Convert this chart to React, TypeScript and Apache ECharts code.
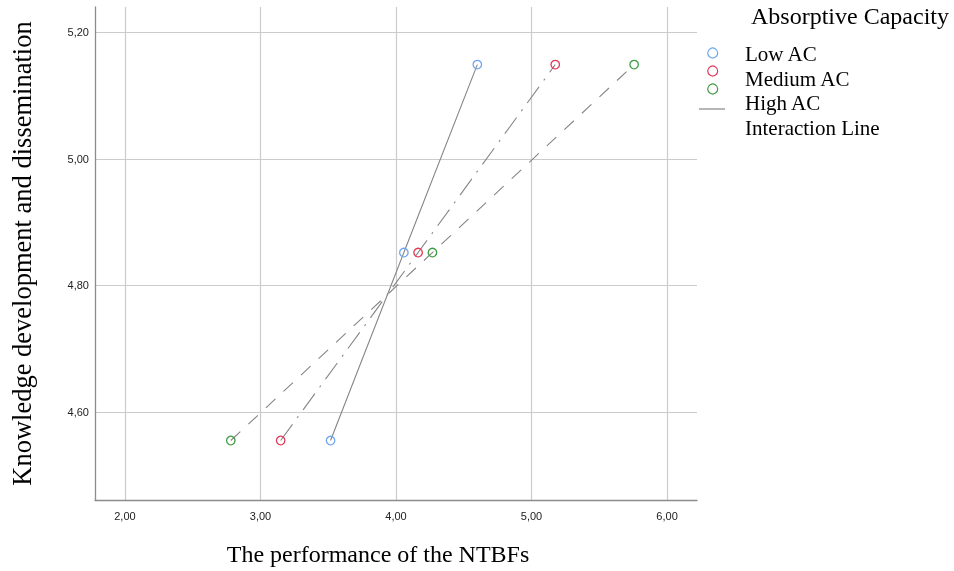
import React, { useEffect, useRef } from "react";
import * as echarts from "echarts";

const seriesNames = ["Low AC", "Medium AC", "High AC"];
const lowAC: [number, number][] = [[3.517, 4.555], [4.058, 4.852], [4.600, 5.149]];
const mediumAC: [number, number][] = [[3.149, 4.555], [4.163, 4.852], [5.175, 5.149]];
const highAC: [number, number][] = [[2.781, 4.555], [4.269, 4.852], [5.757, 5.149]];
const xTicks = [2, 3, 4, 5, 6];
const yTicks = [4.6, 4.8, 5.0, 5.2];
const legendTitle = "Absorptive Capacity";
const legendExtra = "Interaction Line";
const xTitle = "The performance of the NTBFs";
const yTitle = "Knowledge development and dissemination";

const colors = ["#6ea5ee", "#e2395a", "#3f9b43"];
const lineTypes: any[] = ["solid", [20, 8, 2, 8], [13, 11]];
const lineGray = "#858585";

export default function App() {
  const ref = useRef<HTMLDivElement>(null);
  useEffect(() => {
    if (!ref.current) return;
    const chart = echarts.init(ref.current, null, { renderer: "svg" });
    const fmt = (v: number) => v.toFixed(2).replace(".", ",");
    const datasets = [lowAC, mediumAC, highAC];
    const series = datasets.map((d, i) => ({
      name: seriesNames[i],
      type: "line",
      data: d,
      symbol: "circle",
      symbolSize: 8.5,
      itemStyle: { color: "rgba(0,0,0,0)", borderColor: colors[i], borderWidth: 1.3 },
      lineStyle: { color: lineGray, width: 1.1, type: lineTypes[i] },
      emphasis: { disabled: true },
    }));
    const legendItems: any[] = [];
    seriesNames.forEach((n, i) => {
      legendItems.push({
        type: "circle",
        shape: { cx: 712.7, cy: 53 + i * 18, r: 5 },
        style: { fill: "none", stroke: colors[i], lineWidth: 1.2 },
      });
      legendItems.push({
        type: "text",
        x: 745,
        y: 54 + i * 24.7,
        style: { text: n, font: "21px 'Liberation Serif'", fill: "#000", verticalAlign: "middle", align: "left" },
      });
    });
    legendItems.push({
      type: "line",
      shape: { x1: 699, y1: 109, x2: 725, y2: 109 },
      style: { stroke: lineGray, lineWidth: 1.2 },
    });
    legendItems.push({
      type: "text",
      x: 745,
      y: 128,
      style: { text: legendExtra, font: "21px 'Liberation Serif'", fill: "#000", verticalAlign: "middle", align: "left" },
    });
    legendItems.push({
      type: "text",
      x: 850,
      y: 16,
      style: { text: legendTitle, font: "24px 'Liberation Serif'", fill: "#000", verticalAlign: "middle", align: "center" },
    });

    chart.setOption({
      animation: false,
      grid: { left: 94, top: 7, width: 603, height: 496, containLabel: false },
      xAxis: {
        type: "value",
        min: 1.779,
        max: 6.221,
        name: xTitle,
        nameLocation: "middle",
        nameGap: 42,
        nameTextStyle: { fontFamily: "Liberation Serif", fontSize: 24, color: "#000", padding: [0, 36, 0, 0] },
        axisLine: { show: true, onZero: false, lineStyle: { color: "#8c8c8c", width: 1.3 } },
        axisTick: { show: false, customValues: xTicks },
        axisLabel: { customValues: xTicks, formatter: fmt, fontFamily: "Liberation Sans", fontSize: 11, color: "#222", margin: 10 },
        splitLine: { show: true, lineStyle: { color: "#cbcbcb", width: 1.2 } },
      },
      yAxis: {
        type: "value",
        min: 4.461,
        max: 5.24,
        name: yTitle,
        nameLocation: "middle",
        nameGap: 60,
        nameTextStyle: { fontFamily: "Liberation Serif", fontSize: 26.5, color: "#000" },
        axisLine: { show: true, onZero: false, lineStyle: { color: "#8c8c8c", width: 1.3 } },
        axisTick: { show: false, customValues: yTicks },
        axisLabel: { customValues: yTicks, formatter: fmt, fontFamily: "Liberation Sans", fontSize: 11, color: "#222", margin: 6 },
        splitLine: { show: true, lineStyle: { color: "#cbcbcb", width: 1.2 } },
      },
      series,
      graphic: { elements: legendItems },
    });
    return () => chart.dispose();
  }, []);
  return <div ref={ref} style={{ position: "fixed", left: 0, top: 0, width: 954, height: 571 }} />;
}
